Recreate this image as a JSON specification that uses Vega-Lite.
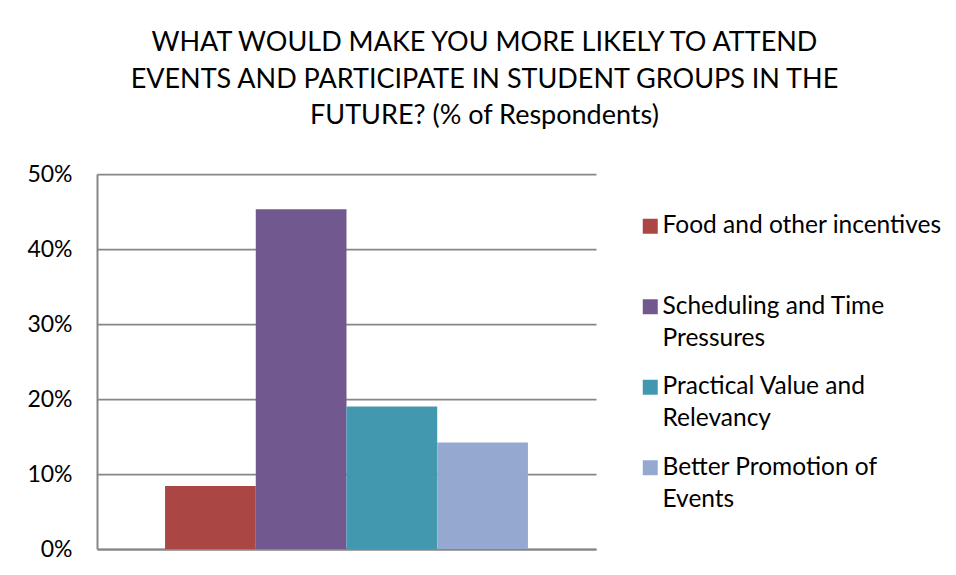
{
  "$schema": "https://vega.github.io/schema/vega-lite/v6.json",
  "autosize": {"type": "none"},
  "width": 499,
  "height": 375,
  "padding": {"left": 97, "top": 174, "right": 360, "bottom": 26},
  "background": "white",
  "title": {
    "text": ["WHAT WOULD MAKE YOU MORE LIKELY TO ATTEND", "EVENTS AND PARTICIPATE IN STUDENT GROUPS IN THE", "FUTURE? (% of Respondents)"],
    "font": "Lato",
    "fontSize": 27,
    "fontWeight": "normal",
    "color": "black",
    "lineHeight": 36.5,
    "anchor": "middle",
    "frame": "bounds",
    "offset": 33
  },
  "data": {
    "values": [
      {"category": "Food and other incentives", "pct": 0.084},
      {"category": "Scheduling and Time Pressures", "pct": 0.453},
      {"category": "Practical Value and Relevancy", "pct": 0.190},
      {"category": "Better Promotion of Events", "pct": 0.142}
    ]
  },
  "layer": [
    {
      "mark": {"type": "bar"},
      "encoding": {
        "x": {
          "field": "category",
          "type": "nominal",
          "sort": null,
          "scale": {"paddingInner": 0, "paddingOuter": 0.75},
          "axis": {"labels": false, "ticks": false, "title": null, "domainColor": "#868686", "domainWidth": 2}
        },
        "y": {
          "field": "pct",
          "type": "quantitative",
          "scale": {"domain": [0, 0.5], "nice": false},
          "axis": {
            "values": [0, 0.1, 0.2, 0.3, 0.4, 0.5],
            "format": ".0%",
            "title": null,
            "ticks": false,
            "labelPadding": 25,
            "labelFont": "Lato",
            "labelFontSize": 23,
            "labelColor": "black",
            "domainColor": "#868686",
            "domainWidth": 2,
            "gridColor": "#868686",
            "gridWidth": 1.75,
            "gridOpacity": 1
          }
        },
        "color": {
          "field": "category",
          "type": "nominal",
          "sort": null,
          "scale": {
            "domain": ["Food and other incentives", "Scheduling and Time Pressures", "Practical Value and Relevancy", "Better Promotion of Events"],
            "range": ["#AA4744", "#71598F", "#4298AF", "#95A9D0"]
          },
          "legend": {
            "title": null,
            "orient": "none",
            "legendX": 541,
            "legendY": 40,
            "symbolType": "square",
            "symbolSize": 225,
            "symbolStrokeWidth": 0,
            "labelFont": "Lato",
            "labelFontSize": 24.5,
            "labelColor": "black",
            "labelOffset": 0,
            "labelLimit": 400,
            "rowPadding": 23.5,
            "labelExpr": "datum.label == 'Food and other incentives' ? ['Food and other incentives', ''] : datum.label == 'Scheduling and Time Pressures' ? ['Scheduling and Time', 'Pressures'] : datum.label == 'Practical Value and Relevancy' ? ['Practical Value and', 'Relevancy'] : ['Better Promotion of', 'Events']",
            "encode": {"labels": {"update": {"lineHeight": {"value": 32}}}}
          }
        }
      }
    }
  ],
  "config": {"view": {"stroke": null}}
}
